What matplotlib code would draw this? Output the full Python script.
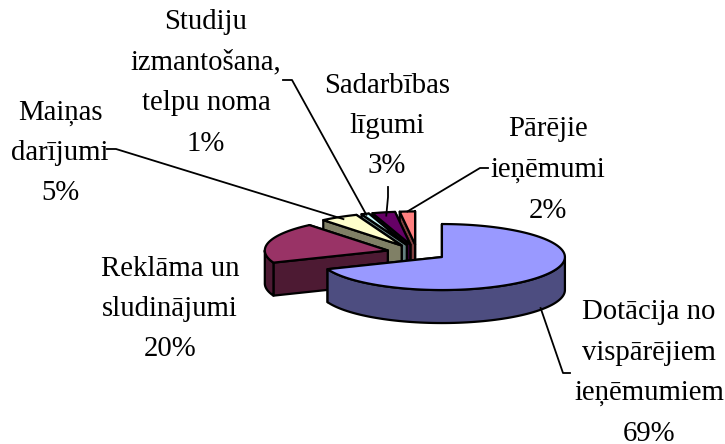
import matplotlib

matplotlib.use("Agg")
import matplotlib.pyplot as plt
import numpy as np
from matplotlib.patches import Polygon

NAMES = [
    "Dotācija no\nvispārējiem\nieņēmumiem",
    "Reklāma un\nsludinājumi",
    "Maiņas\ndarījumi",
    "Studiju\nizmantošana,\ntelpu noma",
    "Sadarbības\nlīgumi",
    "Pārējie\nieņēmumi",
]
VALUES = [69, 20, 5, 1, 3, 2]
TOP_COLORS = ["#9999FF", "#993366", "#FFFFCC", "#CCFFFF", "#660066", "#FF8080"]
SIDE_COLORS = ["#4D4D80", "#4D1A33", "#808066", "#668080", "#330033", "#804040"]

# layout in image pixels
CENTER = (417.0, 252.5)
RX, RY = 123.0, 33.0
DEPTH = 33.0
EXPLODE = 0.245
LABEL_POS = [(649, 373), (170, 309), (60, 153), (206, 83), (387, 126), (548, 170)]
# leader paths run from the label towards the slice rim
LEADER_PATHS = [
    [(570, 373), (563, 373)],
    None,
    [(107, 149), (116, 149)],
    [(283, 80), (292, 80)],
    [(388, 187), (388, 197)],
    [(488, 168), (480, 168)],
]
LEADER_RIM = [0.97, None, 0.93, 0.97, 0.9, 1.0]


def _ring(center, angles, scale=1.0):
    rad = np.radians(angles)
    return np.column_stack([
        center[0] + scale * RX * np.sin(rad),
        center[1] - scale * RY * np.cos(rad),
    ])


def _draw_slice(ax, apex, start, end, top, side):
    edge = dict(edgecolor="black", linewidth=1.6, joinstyle="round")
    down = np.array([0.0, DEPTH])
    apex = np.array(apex)
    rims = sorted((_ring(apex, [a])[0] for a in (start, end)), key=lambda p: p[1])
    for rim in rims:
        ax.add_patch(Polygon([apex, rim, rim + down, apex + down], facecolor=side, **edge))
    low, high = max(start, 90.0), min(end, 270.0)
    if high > low:
        arc = _ring(apex, np.linspace(low, high, 80))
        ax.add_patch(Polygon(np.vstack([arc, arc[::-1] + down]), facecolor=side, **edge))
    arc = _ring(apex, np.linspace(start, end, 120))
    ax.add_patch(Polygon(np.vstack([apex, arc]), facecolor=top, **edge))


def main():
    fig = plt.figure(figsize=(7.25, 4.44), dpi=100)
    ax = fig.add_axes([0, 0, 1, 1])
    ax.set_xlim(0, 725)
    ax.set_ylim(444, 0)
    ax.axis("off")

    edges = np.concatenate([[0.0], np.cumsum(VALUES)]) / sum(VALUES) * 360.0
    apexes = []
    for i in range(len(VALUES)):
        mid = 0.5 * (edges[i] + edges[i + 1])
        apexes.append(_ring(CENTER, [mid], EXPLODE)[0])

    # back slices first, the big front one last
    for i in range(len(VALUES) - 1, -1, -1):
        _draw_slice(ax, apexes[i], edges[i], edges[i + 1], TOP_COLORS[i], SIDE_COLORS[i])

    for i, name in enumerate(NAMES):
        x, y = LABEL_POS[i]
        ax.text(
            x, y, f"{name}\n{VALUES[i]}%",
            family="Liberation Serif", fontsize=20.7, color="black",
            ha="center", va="center", linespacing=1.72,
        )
        if LEADER_PATHS[i] is None:
            continue
        mid = 0.5 * (edges[i] + edges[i + 1])
        rim = _ring(apexes[i], [mid], LEADER_RIM[i])[0]
        if i == 0:
            rim = rim + np.array([0.0, DEPTH])
        path = np.vstack([LEADER_PATHS[i], rim])
        ax.plot(path[:, 0], path[:, 1], color="black", linewidth=1.3, zorder=5)

    fig.savefig("out.png", dpi=100)
    plt.close(fig)


if __name__ == "__main__":
    main()
